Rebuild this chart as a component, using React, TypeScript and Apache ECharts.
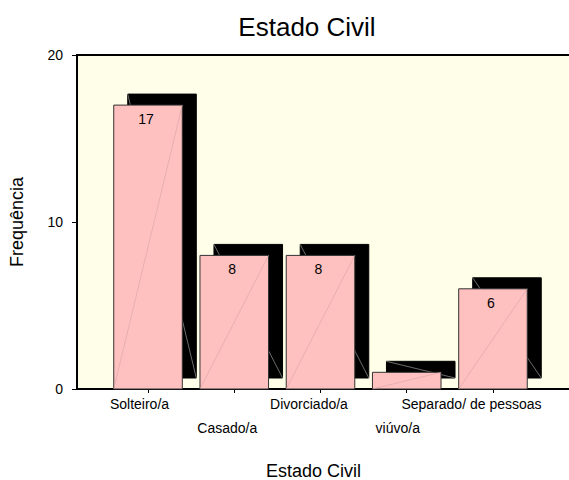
import React, { useEffect, useRef } from "react";
import * as echarts from "echarts";

const chartTitle = "Estado Civil";
const xTitle = "Estado Civil";
const yTitle = "Frequência";
const categories = ["Solteiro/a", "Casado/a", "Divorciado/a", "viúvo/a", "Separado/ de pessoas"];
const frequencies = [17, 8, 8, 1, 6];
const yMin = 0;
const yMax = 20;
const yStep = 10;

// layout / style constants (not data)
const FONT = "'Liberation Sans', Arial, sans-serif";
const labelPadRight = [17, 14, 23, 18, 43];
const labelSecondRow = [false, true, false, true, false];

export default function App() {
  const ref = useRef<HTMLDivElement>(null);
  useEffect(() => {
    if (!ref.current) return;
    const chart = echarts.init(ref.current, null, { renderer: "svg" });
    const rich: any = {
      gap: { fontFamily: FONT, fontSize: 14, lineHeight: 24, padding: 0 },
    };
    categories.forEach((_, i) => {
      rich["r" + i] = {
        fontFamily: FONT,
        fontSize: 14,
        color: "#000",
        lineHeight: 16,
        padding: [0, labelPadRight[i], 0, 0],
      };
    });
    const option: any = {
      animation: false,
      backgroundColor: "#fff",
      title: [
        {
          text: chartTitle,
          left: 302,
          top: 9,
          textAlign: "center",
          textStyle: { fontFamily: FONT, fontSize: 26, fontWeight: "normal", color: "#000" },
        },
      ],
      grid: [
        {
          left: 77,
          top: 55,
          right: -4,
          bottom: 91,
          show: true,
          backgroundColor: "#FFFEE8",
          borderColor: "#000",
          borderWidth: 2,
          containLabel: false,
          outerBoundsMode: "none",
        },
        {
          left: 104.9,
          top: 55,
          right: 32.9,
          bottom: 91,
          containLabel: false,
          outerBoundsMode: "none",
        },
      ],
      xAxis: [
        {
          gridIndex: 0,
          type: "value",
          show: false,
        },
        {
          gridIndex: 1,
          type: "category",
          data: categories,
          boundaryGap: true,
          axisLine: { show: false },
          axisTick: { show: true, alignWithLabel: true, length: 4, lineStyle: { color: "#000", width: 1 } },
          axisLabel: {
            interval: 0,
            margin: 7,
            hideOverlap: false,
            formatter: (v: string) => {
              const i = categories.indexOf(v);
              const t = "{r" + i + "|" + v + "}";
              return labelSecondRow[i] ? "{gap| }\n" + t : t;
            },
            rich,
          },
          name: xTitle,
          nameLocation: "middle",
          nameGap: 73,
          nameTextStyle: {
            fontFamily: FONT,
            fontSize: 18,
            lineHeight: 18,
            color: "#000",
            padding: [0, 14, 0, 0],
          },
        },
      ],
      yAxis: [
        {
          gridIndex: 0,
          type: "value",
          min: yMin,
          max: yMax,
          interval: yStep,
          splitLine: { show: false },
          axisLine: { show: true, lineStyle: { color: "#000", width: 2 } },
          axisTick: { show: true, length: 5, lineStyle: { color: "#000", width: 1 } },
          axisLabel: { fontFamily: FONT, fontSize: 14, color: "#000", margin: 14 },
          name: yTitle,
          nameLocation: "middle",
          nameRotate: 90,
          nameGap: 51,
          nameTextStyle: { fontFamily: FONT, fontSize: 18, color: "#000" },
        },
        {
          gridIndex: 1,
          type: "value",
          min: yMin,
          max: yMax,
          interval: yStep,
          show: false,
        },
      ],
      series: [
        {
          type: "custom",
          xAxisIndex: 1,
          yAxisIndex: 1,
          clip: false,
          encode: { x: 0, y: 1 },
          data: frequencies.map((v, i) => [i, v]),
          renderItem: (params: any, api: any) => {
            const idx = api.value(0);
            const val = api.value(1);
            const top = api.coord([idx, val]);
            const base = api.coord([idx, 0]);
            const w = api.size([1, 0])[0] * 0.795;
            const x = top[0] - w / 2;
            const y = top[1];
            const h = base[1] - top[1];
            const dx = 14;
            const dy = -11;
            const children: any[] = [
              {
                type: "rect",
                shape: { x: x + dx, y: y + dy, width: w, height: h },
                style: { fill: "#000", stroke: "#000", lineWidth: 1 },
              },
              {
                type: "line",
                shape: { x1: x + dx, y1: y + dy, x2: x + dx + w, y2: y + dy + h },
                style: { stroke: "#9a9a9a", lineWidth: 0.7 },
              },
              {
                type: "rect",
                shape: { x, y, width: w, height: h },
                style: { fill: "#FFC0C0", stroke: "#333", lineWidth: 1 },
              },
              {
                type: "line",
                shape: { x1: x, y1: base[1], x2: x + w, y2: y },
                style: { stroke: "#d4a6a6", lineWidth: 0.6 },
              },
            ];
            if (val >= 2) {
              children.push({
                type: "text",
                style: {
                  text: String(val),
                  x: top[0] - 2,
                  y: y + 14,
                  align: "center",
                  verticalAlign: "middle",
                  fontFamily: FONT,
                  fontSize: 14,
                  fill: "#000",
                },
              });
            }
            return { type: "group", children };
          },
        },
      ],
    };
    chart.setOption(option);
    return () => chart.dispose();
  }, []);
  return (
    <div
      ref={ref}
      style={{ position: "fixed", left: 0, top: 0, width: 569, height: 480 }}
    />
  );
}
